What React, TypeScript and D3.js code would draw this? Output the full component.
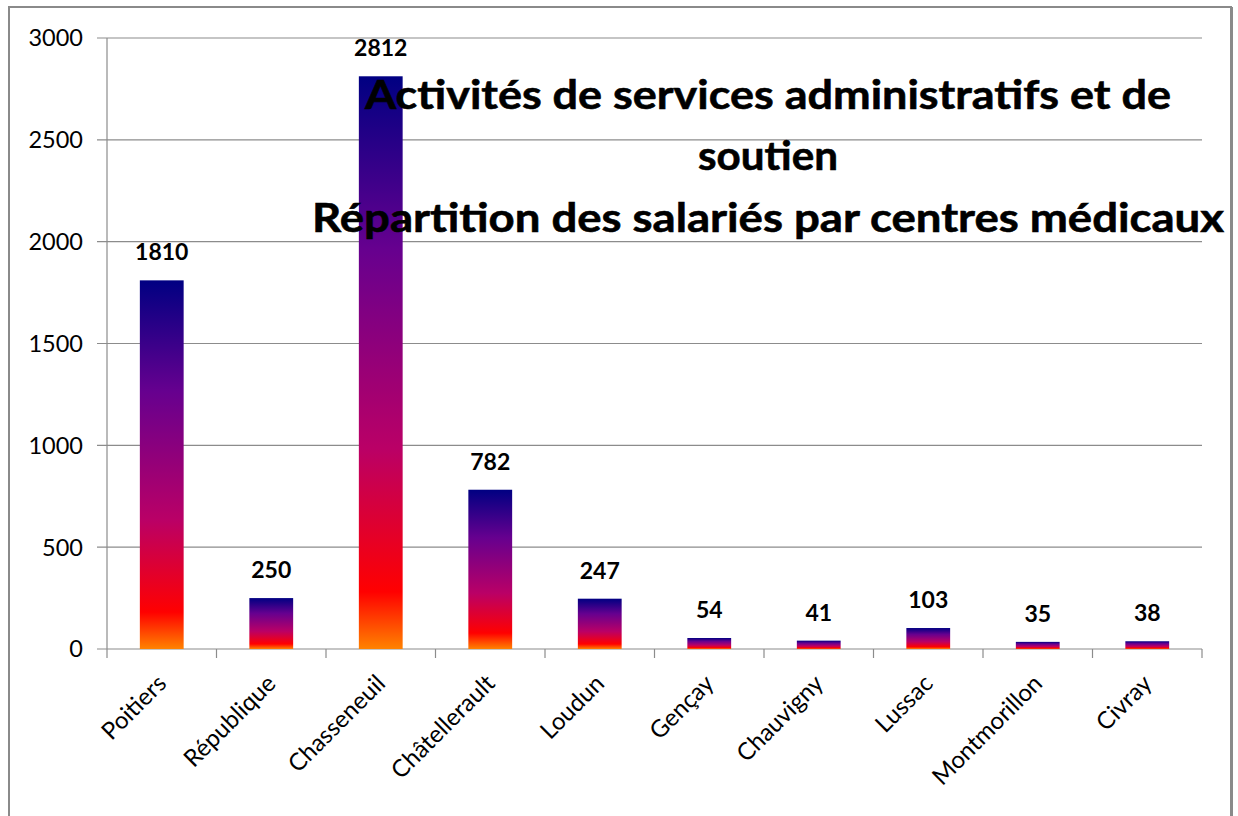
import React from 'react';
import * as d3 from 'd3';

const categories = ['Poitiers', 'République', 'Chasseneuil', 'Châtellerault', 'Loudun', 'Gençay', 'Chauvigny', 'Lussac', 'Montmorillon', 'Civray'];
const salaries = [1810, 250, 2812, 782, 247, 54, 41, 103, 35, 38];
const yTicks = [0, 500, 1000, 1500, 2000, 2500, 3000];
const titleLines = ['Activités de services administratifs et de', 'soutien', 'Répartition des salariés par centres médicaux'];

const App = () => {
  // frame
  const width = 1238;
  const height = 816;
  const left = 107;
  const right = 1202;
  const top = 38;
  const bottom = 649;
  const font = 'Lato, "Open Sans", sans-serif';

  const yScale = d3.scaleLinear().domain([0, 3000]).range([bottom, top]);
  const xScale = d3
    .scaleBand<string>()
    .domain(categories)
    .range([left, right])
    .paddingInner(0.6)
    .paddingOuter(0.3);
  const step = xScale.step();

  const grid = yTicks.map(t => (
    <g key={t}>
      <line x1={97} x2={right} y1={yScale(t)} y2={yScale(t)} stroke="#8c8c8c" strokeWidth={1.2} />
      <text x={83} y={yScale(t)} dy="0.36em" textAnchor="end" fontSize={23.5} fontFamily={font} fill="#000">
        {t}
      </text>
    </g>
  ));

  const catTicks = d3.range(categories.length + 1).map(i => (
    <line key={i} x1={left + i * step} x2={left + i * step} y1={bottom} y2={bottom + 9} stroke="#8c8c8c" strokeWidth={1.2} />
  ));

  const bars = categories.map((c, i) => {
    const x = xScale(c) as number;
    const cx = x + xScale.bandwidth() / 2;
    const y = yScale(salaries[i]);
    return (
      <g key={c}>
        <rect x={x} y={y} width={xScale.bandwidth()} height={bottom - y} fill="url(#lateSunset)" />
        <text x={cx} y={y - 20} textAnchor="middle" fontSize={23} fontWeight="bold" fontFamily={font} fill="#000">
          {salaries[i]}
        </text>
        <text
          transform={`translate(${cx + 6},${bottom + 36}) rotate(-45)`}
          textAnchor="end"
          fontSize={24}
          fontFamily={font}
          fill="#000">
          {c}
        </text>
      </g>
    );
  });

  const titleWidths = [806, 140, 912];
  const titleY = [109, 170, 232];
  const title = titleLines.map((t, i) => (
    <text
      key={i}
      x={768}
      y={titleY[i]}
      textAnchor="middle"
      fontSize={41}
      fontWeight="bold"
      fontFamily={font}
      textLength={titleWidths[i]}
      lengthAdjust="spacingAndGlyphs"
      stroke="#000"
      strokeWidth={0.6}
      fill="#000">
      {t}
    </text>
  ));

  return (
    <svg width={width} height={height} style={{ position: 'absolute', left: 0, top: 0, background: '#fff' }}>
      <defs>
        <linearGradient id="lateSunset" x1="0" y1="0" x2="0" y2="1">
          <stop offset="0" stopColor="#000082" />
          <stop offset="0.3" stopColor="#66008f" />
          <stop offset="0.65" stopColor="#ba0066" />
          <stop offset="0.9" stopColor="#ff0000" />
          <stop offset="1" stopColor="#ff8200" />
        </linearGradient>
      </defs>
      <rect x={0} y={0} width={width} height={height} fill="#fff" />
      <rect x={9} y={7} width={1222} height={830} fill="none" stroke="#8a8a8a" strokeWidth={2} />
      <line x1={1232} x2={1232} y1={7} y2={816} stroke="#8a8a8a" strokeWidth={2} />
      {grid}
      <line x1={left} x2={left} y1={top} y2={bottom} stroke="#8c8c8c" strokeWidth={1.2} />
      {catTicks}
      {bars}
      {title}
    </svg>
  );
};

export default App;
